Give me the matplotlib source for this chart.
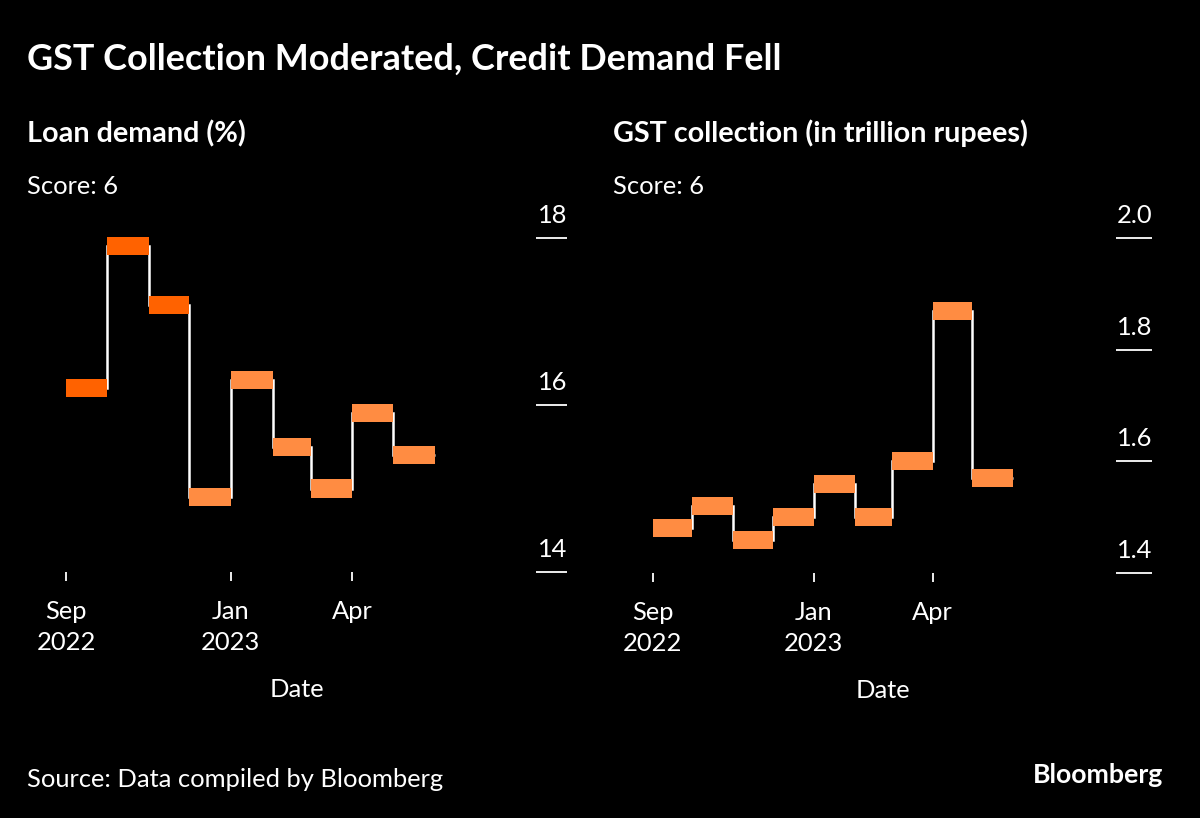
import matplotlib
matplotlib.use("Agg")
import matplotlib.pyplot as plt
import matplotlib.dates as mdates
from matplotlib.transforms import offset_copy
import numpy as np

# ---------------- data ----------------
months = ["2022-09-01", "2022-10-01", "2022-11-01", "2022-12-01", "2023-01-01",
          "2023-02-01", "2023-03-01", "2023-04-01", "2023-05-01"]
month_end = "2023-06-01"
loan_demand = [16.2, 17.9, 17.2, 14.9, 16.3, 15.5, 15.0, 15.9, 15.4]
gst_collection = [1.48, 1.52, 1.46, 1.50, 1.56, 1.50, 1.60, 1.87, 1.57]

x_tick_dates = ["2022-09-01", "2023-01-01", "2023-04-01"]
x_tick_labels = ["Sep\n2022", "Jan\n2023", "Apr"]
loan_yticks = [14, 16, 18]
loan_ytick_labels = ["14", "16", "18"]
gst_yticks = [1.4, 1.6, 1.8, 2.0]
gst_ytick_labels = ["1.4", "1.6", "1.8", "2.0"]

title = "GST Collection Moderated, Credit Demand Fell"
left_title = "Loan demand (%)"
right_title = "GST collection (in trillion rupees)"
score_text = "Score: 6"
source_text = "Source: Data compiled by Bloomberg"

# ---------------- styles ----------------
DARK_ORANGE = "#FF6200"
LIGHT_ORANGE = "#FF8C42"
loan_colors = [DARK_ORANGE] * 3 + [LIGHT_ORANGE] * 6
gst_colors = [LIGHT_ORANGE] * 9

FONT = "Lato"
plt.rcParams["font.family"] = [FONT, "DejaVu Sans"]

W, H = 1200, 818
fig = plt.figure(figsize=(W / 100, H / 100), dpi=100, facecolor="black")


def px_axes(x0, y0, x1, y1):
    return fig.add_axes([x0 / W, 1 - y1 / H, (x1 - x0) / W, (y1 - y0) / H])


def ftext(x, y, s, **kw):
    return fig.text(x / W, 1 - y / H, s, va="baseline", color="white", **kw)


renderer = fig.canvas.get_renderer()


def fit(t, target_w):
    bb = t.get_window_extent(renderer)
    t.set_fontsize(t.get_fontsize() * target_w / bb.width)
    return t.get_fontsize()


# text
t_title = ftext(27, 70, title, fontsize=26, fontweight="bold")
fit(t_title, 755)
t_l = ftext(27, 142, left_title, fontsize=19, fontweight="bold")
sub_fs = fit(t_l, 219)
t_r = ftext(613, 142, right_title, fontsize=sub_fs, fontweight="bold")
t_s1 = ftext(27, 194, score_text, fontsize=18)
base_fs = fit(t_s1, 91)
t_s2 = ftext(613, 194, score_text, fontsize=base_fs)
t_src = ftext(27, 787, source_text, fontsize=base_fs)
t_logo = ftext(1033, 783, "Bloomberg", fontsize=16, fontweight="bold")
fit(t_logo, 131)

dates = [mdates.datestr2num(d) for d in months]
end_num = mdates.datestr2num(month_end)
edges = dates + [end_num]
widths = np.diff(edges)


def panel(ax, values, colors, yticks, ylabels, ylim, xlim, bar_h_px, tick_len_px):
    ax.set_facecolor("black")
    for s in ax.spines.values():
        s.set_visible(False)
    ax.set_xlim(mdates.datestr2num(xlim[0]), mdates.datestr2num(xlim[1]))
    ax.set_ylim(*ylim)
    # step line
    ax.step(edges, list(values) + [values[-1]], where="post", color="white",
            lw=1.8, zorder=2, solid_joinstyle="miter", solid_capstyle="butt")
    # rectangles
    ax_h_px = ax.get_window_extent(renderer).height
    h = bar_h_px * (ylim[1] - ylim[0]) / ax_h_px
    ax.bar(dates, [h] * len(values), bottom=np.array(values) - h / 2,
           width=widths, align="edge", color=colors, zorder=3, linewidth=0)
    # x ticks
    ax.set_xticks([mdates.datestr2num(d) for d in x_tick_dates])
    ax.set_xticklabels(x_tick_labels, linespacing=1.42)
    ax.tick_params(axis="x", colors="white", length=9 * 0.72, width=1.3,
                   pad=14, labelsize=base_fs)
    ax.set_xlabel("Date", color="white", fontsize=base_fs, labelpad=17)
    # y ticks on right, drawn inward
    ax.yaxis.tick_right()
    ax.set_yticks(yticks)
    ax.set_yticklabels([])
    ax.tick_params(axis="y", direction="in", colors="white",
                   length=tick_len_px * 0.72, width=1.3, right=True, left=False)
    tr = offset_copy(ax.get_yaxis_transform(), fig=fig, x=0, y=15, units="dots")
    for yv, lab in zip(yticks, ylabels):
        ax.text(1.0, yv, lab, transform=tr, ha="right", va="baseline",
                color="white", fontsize=base_fs, clip_on=False)
    for p in ax.patches:
        p.set_clip_on(False)
    for l in ax.lines:
        l.set_clip_on(False)


ax1 = px_axes(27, 238, 567, 572)
panel(ax1, loan_demand, loan_colors, loan_yticks, loan_ytick_labels, (14, 18),
      ("2022-08-03", "2023-09-07"), 18, 31)

ax2 = px_axes(613, 238, 1152, 573)
panel(ax2, gst_collection, gst_colors, gst_yticks, gst_ytick_labels, (1.4, 2.0),
      ("2022-08-02", "2023-09-14"), 18, 36)

fig.savefig("out.png", dpi=100, facecolor="black")
